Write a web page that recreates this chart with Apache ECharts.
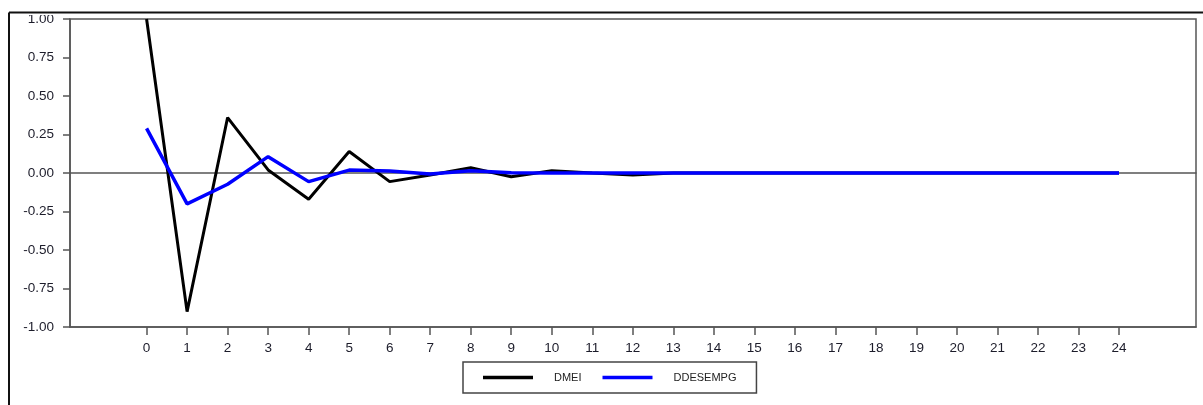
<!DOCTYPE html>
<html><head><meta charset="utf-8">
<script src="https://cdn.jsdelivr.net/npm/echarts@6/dist/echarts.min.js"></script>
<style>html,body{margin:0;padding:0;background:#fff}#c{width:1203px;height:405px}</style>
</head><body><div id="c"></div>
<script>
const lags = [0,1,2,3,4,5,6,7,8,9,10,11,12,13,14,15,16,17,18,19,20,21,22,23,24];
const dmei = [1.00,-0.90,0.36,0.02,-0.17,0.14,-0.056,-0.013,0.034,-0.024,0.015,0.0,-0.013,0.0,0.0,0.0,0.0,0.0,0.0,0.0,0.0,0.0,0.0,0.0,0.0];
const ddesempg = [0.29,-0.20,-0.073,0.106,-0.056,0.019,0.013,-0.006,0.015,0.002,0.0,0.0,0.0,0.0,0.0,0.0,0.0,0.0,0.0,0.0,0.0,0.0,0.0,0.0,0.0];
const seriesNames = ['DMEI','DDESEMPG'];

const labelFont = '"Liberation Sans",Arial,sans-serif';
const chart = echarts.init(document.getElementById('c'), null, {renderer:'canvas'});
chart.setOption({
  animation:false,
  backgroundColor:'#fff',
  grid:{left:70,right:7,top:19,bottom:78,show:true,borderColor:'#555',borderWidth:1.5,containLabel:false},
  xAxis:[{
    type:'value', min:-1.89, max:25.9,
    axisLine:{onZero:false,lineStyle:{color:'#555',width:1.5}},
    axisTick:{customValues:lags,length:8,lineStyle:{color:'#555',width:1.5}},
    axisLabel:{customValues:lags,margin:14,fontSize:13.5,fontFamily:labelFont,color:'#1c1c2a'},
    splitLine:{show:false}
  },{
    type:'value', min:-1.89, max:25.9, position:'bottom',
    axisLine:{onZero:true,lineStyle:{color:'#555',width:1.5}},
    axisTick:{show:false}, axisLabel:{show:false}, splitLine:{show:false}
  }],
  yAxis:{
    type:'value', min:-1, max:1, interval:0.25,
    axisLine:{show:true,onZero:false,lineStyle:{color:'#555',width:1.5}},
    axisTick:{show:true,length:7,lineStyle:{color:'#555',width:1.5}},
    axisLabel:{margin:16,fontSize:13.5,fontFamily:labelFont,color:'#1c1c2a',formatter:v=>v.toFixed(2)},
    splitLine:{show:false}
  },
  legend:{
    left:463, top:362, orient:'horizontal',
    padding:[10,20,10,20], borderColor:'#444', borderWidth:1.5,
    itemWidth:50, itemHeight:3.5, itemGap:21, icon:'rect',
    textStyle:{fontSize:11,fontFamily:'"Liberation Sans",Arial,sans-serif',color:'#222',padding:[0,0,0,16]},
    data:seriesNames
  },
  series:[
    {name:seriesNames[0],type:'line',symbol:'none',data:lags.map((l,i)=>[l,dmei[i]]),
     itemStyle:{color:'#000'},lineStyle:{color:'#000',width:3}},
    {name:seriesNames[1],type:'line',symbol:'none',data:lags.map((l,i)=>[l,ddesempg[i]]),
     itemStyle:{color:'#0000ff'},lineStyle:{color:'#0000ff',width:3.5}}
  ],
  graphic:[
    {type:'rect',z:100,shape:{x:10,y:0,width:58,height:15},style:{fill:'#fff'}},
    {type:'line',z:101,shape:{x1:9,y1:12.5,x2:1203,y2:12.5},style:{stroke:'#111',lineWidth:2}},
    {type:'line',z:101,shape:{x1:9,y1:12.5,x2:9,y2:405},style:{stroke:'#111',lineWidth:2}}
  ]
});
</script></body></html>
